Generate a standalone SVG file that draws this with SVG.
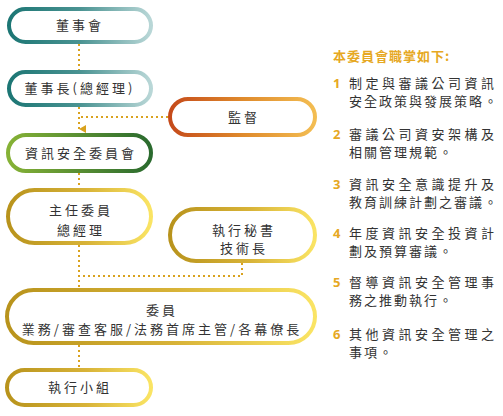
<svg xmlns="http://www.w3.org/2000/svg" width="503" height="416" viewBox="0 0 503 416">
<defs>
<linearGradient id="gTeal" x1="0" y1="0" x2="1" y2="0"><stop offset="0" stop-color="#1c7674"/><stop offset="0.5" stop-color="#4a9392"/><stop offset="1" stop-color="#b9d7d7"/></linearGradient>
<linearGradient id="gOrange" x1="0" y1="0" x2="1" y2="0"><stop offset="0" stop-color="#c54a1a"/><stop offset="0.5" stop-color="#df8a2c"/><stop offset="1" stop-color="#f3bd52"/></linearGradient>
<linearGradient id="gGreen" x1="0" y1="0" x2="1" y2="0"><stop offset="0" stop-color="#86b236"/><stop offset="1" stop-color="#2a6a2e"/></linearGradient>
<linearGradient id="gGold" x1="0" y1="0" x2="1" y2="0"><stop offset="0" stop-color="#b8931c"/><stop offset="0.55" stop-color="#d8b338"/><stop offset="1" stop-color="#fae464"/></linearGradient>
<marker id="arr" viewBox="0 0 8 8" refX="4" refY="7" markerWidth="8" markerHeight="8" markerUnits="userSpaceOnUse" orient="auto-start-reverse"><path d="M0,0 L8,0 L4,7 Z" fill="#d9a21e"/></marker>
</defs>
<style>
.node rect{fill:#fff;stroke-width:4}
.t{font-family:"Noto Sans CJK TC","Noto Sans CJK SC",sans-serif;font-size:13px;fill:#333;letter-spacing:3px;text-anchor:middle}
.conn path{fill:none;stroke:#d9a21e;stroke-width:2;stroke-dasharray:2 3}
.hd{font-family:"Noto Sans CJK TC",sans-serif;font-size:13px;font-weight:bold;fill:#e6a823;letter-spacing:1px}
.num{font-family:"Noto Sans","Noto Sans CJK TC",sans-serif;font-size:13px;font-weight:bold;fill:#e6a823}
.it{font-family:"Noto Sans CJK TC",sans-serif;font-size:13px;fill:#333;letter-spacing:2px}
.it.f{letter-spacing:3.5px}
</style>
<g id="connectors" class="conn">
<path d="M79,44 V70"/>
<path d="M79,107 V129" marker-end="url(#arr)"/>
<path d="M81,117 H169"/>
<path d="M79,173 V188"/>
<path d="M79,245 V288"/>
<path d="M242,263 V276 H81"/>
<path d="M79,345 V368"/>
</g>
<g id="n-board" class="node"><rect x="9" y="9" width="142" height="33" rx="16.5" stroke="url(#gTeal)"/><text class="t" x="80" y="30">董事會</text></g>
<g id="n-chair" class="node"><rect x="9" y="72" width="142" height="33" rx="16.5" stroke="url(#gTeal)"/><text class="t" x="80" y="93">董事長(總經理)</text></g>
<g id="n-supervise" class="node"><rect x="170" y="99" width="145" height="36" rx="18" stroke="url(#gOrange)"/><text class="t" x="244" y="122">監督</text></g>
<g id="n-committee" class="node"><rect x="8" y="135" width="143" height="36" rx="18" stroke="url(#gGreen)"/><text class="t" x="81" y="158">資訊安全委員會</text></g>
<g id="n-chief" class="node"><rect x="8" y="190" width="143" height="53" rx="26.5" stroke="url(#gGold)"/><text class="t" x="81" y="215">主任委員</text><text class="t" x="81" y="235">總經理</text></g>
<g id="n-secretary" class="node"><rect x="170" y="209" width="145" height="52" rx="26" stroke="url(#gGold)"/><text class="t" x="244" y="235">執行秘書</text><text class="t" x="244" y="253">技術長</text></g>
<g id="n-members" class="node"><rect x="7" y="290" width="308" height="53" rx="26.5" stroke="url(#gGold)"/><text class="t" x="162" y="315">委員</text><text class="t" x="162" y="334">業務/審查客服/法務首席主管/各幕僚長</text></g>
<g id="n-exec" class="node"><rect x="7" y="370" width="144" height="35" rx="17.5" stroke="url(#gGold)"/><text class="t" x="80" y="392">執行小組</text></g>
<g id="duties">
<text class="hd" x="333" y="61">本委員會職掌如下:</text>
<text class="num" x="333" y="88">1</text><text class="it f" x="349" y="88">制定與審議公司資訊</text><text class="it" x="349" y="106">安全政策與發展策略。</text>
<text class="num" x="333" y="139">2</text><text class="it f" x="349" y="139">審議公司資安架構及</text><text class="it" x="349" y="157">相關管理規範。</text>
<text class="num" x="333" y="189">3</text><text class="it f" x="349" y="189">資訊安全意識提升及</text><text class="it" x="349" y="207">教育訓練計劃之審議。</text>
<text class="num" x="333" y="238">4</text><text class="it f" x="349" y="238">年度資訊安全投資計</text><text class="it" x="349" y="256">劃及預算審議。</text>
<text class="num" x="333" y="287">5</text><text class="it f" x="349" y="287">督導資訊安全管理事</text><text class="it" x="349" y="305">務之推動執行。</text>
<text class="num" x="333" y="339">6</text><text class="it f" x="349" y="339">其他資訊安全管理之</text><text class="it" x="349" y="357">事項。</text>
</g>
</svg>
